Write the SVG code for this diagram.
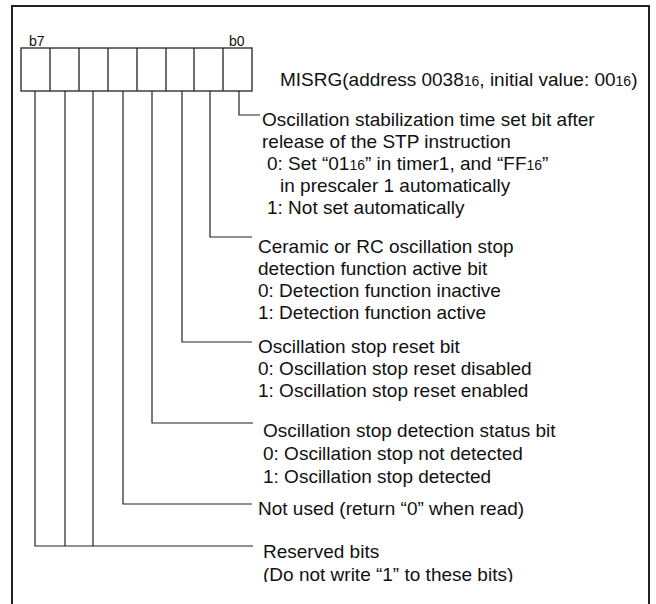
<svg xmlns="http://www.w3.org/2000/svg" width="656" height="604" viewBox="0 0 656 604">
<style>
.t{font-family:"Liberation Sans",Arial,sans-serif;font-size:19px;fill:#111}
.s{font-size:14px}
.lbl{font-family:"Liberation Sans",Arial,sans-serif;font-size:14px;fill:#111}
.ln{fill:none;stroke:#222;stroke-width:1.2}
.cell{fill:#fff;stroke:#333;stroke-width:1.4}
.frame{fill:none;stroke:#222;stroke-width:2}
</style>
<defs>
<clipPath id="clipBottom"><rect x="0" y="0" width="656" height="582"/></clipPath>
</defs>
<rect x="0" y="0" width="656" height="604" fill="#fff"/>
<path class="frame" d="M12,612 V6 H649 V612"/>

<g id="register">
<rect class="cell" x="21" y="48" width="231" height="43"/>
<path class="ln" d="M50,48V91M79,48V91M108,48V91M137,48V91M166,48V91M194,48V91M223,48V91" style="stroke-width:1.4;stroke:#333"/>
<text class="lbl" x="29" y="46">b7</text>
<text class="lbl" x="229" y="46">b0</text>
<text class="t" x="280" y="86">MISRG(address 0038<tspan class="s">16</tspan>, initial value: 00<tspan class="s">16</tspan>)</text>
</g>

<g id="connectors">
<path class="ln" d="M239,91V115H260"/>
<path class="ln" d="M210,91V237H252"/>
<path class="ln" d="M182,91V342H252"/>
<path class="ln" d="M152,91V423H253"/>
<path class="ln" d="M123,91V504H252"/>
<path class="ln" d="M93,91V546M65,91V546M35,91V546H253"/>
</g>

<g id="bit0">
<text class="t" x="262" y="126">Oscillation stabilization time set bit after</text>
<text class="t" x="262" y="148">release of the STP instruction</text>
<text class="t" x="267" y="170">0: Set “01<tspan class="s">16</tspan>” in timer1, and  “FF<tspan class="s">16</tspan>”</text>
<text class="t" x="280" y="192">in prescaler 1 automatically</text>
<text class="t" x="267" y="214">1: Not set automatically</text>
</g>

<g id="bit1">
<text class="t" x="258" y="253">Ceramic or RC oscillation stop</text>
<text class="t" x="258" y="275">detection function active bit</text>
<text class="t" x="258" y="297">0: Detection function inactive</text>
<text class="t" x="258" y="319">1: Detection function active</text>
</g>

<g id="bit2">
<text class="t" x="258" y="353">Oscillation stop reset bit</text>
<text class="t" x="258" y="375">0: Oscillation stop reset disabled</text>
<text class="t" x="258" y="397">1: Oscillation stop reset enabled</text>
</g>

<g id="bit3">
<text class="t" x="263" y="437">Oscillation stop detection status bit</text>
<text class="t" x="263" y="460">0: Oscillation stop not detected</text>
<text class="t" x="263" y="483">1: Oscillation stop detected</text>
</g>

<g id="bit4">
<text class="t" x="258" y="515">Not used (return “0” when read)</text>
</g>

<g id="reserved">
<text class="t" x="263" y="558">Reserved bits</text>
<text class="t" x="263" y="581" clip-path="url(#clipBottom)">(Do not write “1” to these bits)</text>
</g>
</svg>
